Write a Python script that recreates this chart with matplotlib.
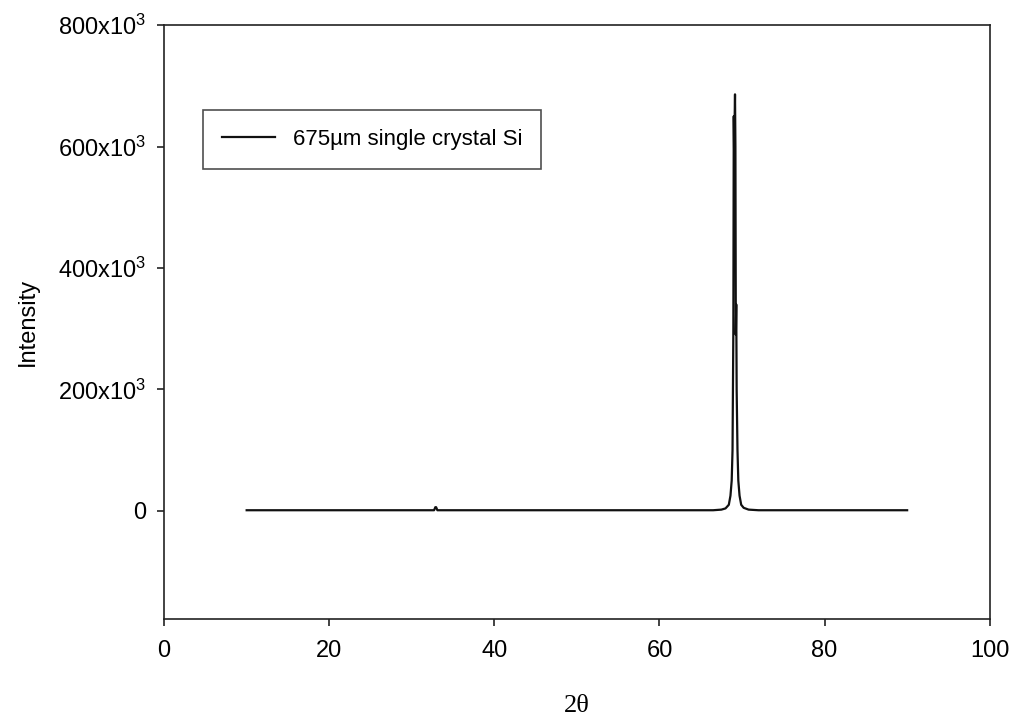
import matplotlib.pyplot as plt

# XRD scan of a 675 um single crystal Si wafer
two_theta = [10.0, 32.7, 32.85, 32.95, 33.1, 66.5, 67.5, 68.0, 68.4, 68.6,
             68.75, 68.85, 68.95, 69.0, 69.05, 69.1, 69.15, 69.2, 69.25,
             69.3, 69.35, 69.45, 69.55, 69.7, 69.9, 70.2, 70.8, 72.0, 90.0]
intensity = [1000, 1000, 6000, 6000, 1000, 1000, 2000, 4000, 10000, 25000,
             50000, 100000, 300000, 650000, 585000, 640000, 686000, 600000,
             290000, 340000, 200000, 100000, 50000, 25000, 10000, 5000,
             2000, 1000, 1000]

x_ticks = [0, 20, 40, 60, 80, 100]
y_ticks = [0, 200000, 400000, 600000, 800000]
y_tick_labels = ["0", "200x10$^{3}$", "400x10$^{3}$", "600x10$^{3}$", "800x10$^{3}$"]
series_label = "675µm single crystal Si"

plt.rcParams["font.family"] = ["Liberation Sans", "DejaVu Sans"]
plt.rcParams["mathtext.fontset"] = "custom"
plt.rcParams["mathtext.rm"] = "Liberation Sans"
plt.rcParams["mathtext.default"] = "regular"

fig = plt.figure(figsize=(10.13, 7.18), dpi=100)
ax = fig.add_axes([0.162, 0.138, 0.815, 0.827])

ax.plot(two_theta, intensity, color="#111111", linewidth=1.6, label=series_label)

ax.set_xlim(0, 100)
ax.set_ylim(-178000, 800000)
ax.set_xticks(x_ticks)
ax.set_yticks(y_ticks)
ax.set_yticklabels(y_tick_labels)

for side in ["top", "right", "left", "bottom"]:
    ax.spines[side].set_linewidth(1.2)
    ax.spines[side].set_color("#222222")
ax.tick_params(direction="out", length=5, width=1.2, color="#222222",
               labelsize=17, top=False, right=False)
ax.tick_params(axis="x", pad=10)
ax.tick_params(axis="y", pad=8)

ax.set_xlabel("2θ", fontsize=19, family=["Liberation Serif", "DejaVu Serif"], labelpad=24)
ax.set_ylabel("Intensity", fontsize=17, labelpad=14)

leg = ax.legend(loc="upper left", bbox_to_anchor=(0.047, 0.857), fontsize=16,
                frameon=True, fancybox=False, edgecolor="#222222",
                handlelength=2.4, handletextpad=0.8, borderpad=0.85, borderaxespad=0)
leg.get_frame().set_linewidth(1.2)

fig.savefig("out.png", dpi=100)
plt.close(fig)
